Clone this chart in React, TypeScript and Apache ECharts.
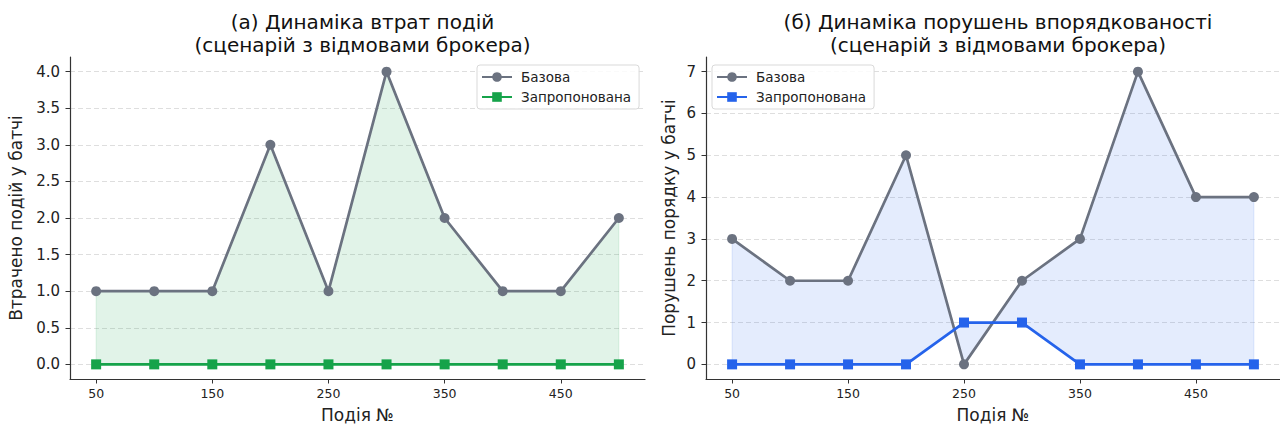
import React, { useEffect, useRef } from "react";
import * as echarts from "echarts";

const EVENTS = [50, 100, 150, 200, 250, 300, 350, 400, 450, 500];
const LOSS_BASE = [1, 1, 1, 3, 1, 4, 2, 1, 1, 2];
const LOSS_PROP = [0, 0, 0, 0, 0, 0, 0, 0, 0, 0];
const ORDER_BASE = [3, 2, 2, 5, 0, 2, 3, 7, 4, 4];
const ORDER_PROP = [0, 0, 0, 0, 1, 1, 0, 0, 0, 0];
const X_TICKS = [50, 150, 250, 350, 450];
const LOSS_TICKS = [0, 0.5, 1, 1.5, 2, 2.5, 3, 3.5, 4];
const ORDER_TICKS = [0, 1, 2, 3, 4, 5, 6, 7];

const TITLE_A = "(а) Динаміка втрат подій\n(сценарій з відмовами брокера)";
const TITLE_B = "(б) Динаміка порушень впорядкованості\n(сценарій з відмовами брокера)";
const NAME_BASE = "Базова";
const NAME_PROP = "Запропонована";

const FONT = "DejaVu Sans";
const GRAY = "#6b7280";
const GREEN = "#16a34a";
const BLUE = "#2563eb";

function fillSeries(idx: number, base: number[], prop: number[], fill: string, stroke: string) {
  return {
    type: "custom",
    xAxisIndex: idx,
    yAxisIndex: idx,
    silent: true,
    z: 1,
    data: EVENTS.map((x, i) => [x, base[i], prop[i]]),
    renderItem: (params: any, api: any) => {
      if (params.dataIndex !== 0) return null;
      const top = EVENTS.map((x, i) => api.coord([x, base[i]]));
      const bot = EVENTS.map((x, i) => api.coord([x, prop[i]])).reverse();
      return {
        type: "polygon",
        shape: { points: top.concat(bot) },
        style: { fill, stroke, lineWidth: 1 },
      };
    },
  };
}

function gridLineSeries(idx: number, ticks: number[]) {
  return {
    type: "line",
    xAxisIndex: idx,
    yAxisIndex: idx,
    data: [],
    silent: true,
    z: 0,
    markLine: {
      silent: true,
      z: 0,
      symbol: ["none", "none"],
      label: { show: false },
      lineStyle: { type: [5, 3], color: "#d6d6d6", width: 0.8 },
      data: ticks.map((t) => ({ yAxis: t })),
    },
  };
}

function lineSeries(idx: number, name: string, data: number[], color: string, symbol: string) {
  return {
    type: "line",
    name,
    xAxisIndex: idx,
    yAxisIndex: idx,
    data: EVENTS.map((x, i) => [x, data[i]]),
    symbol,
    symbolSize: 10,
    showSymbol: true,
    z: 3,
    lineStyle: { color, width: 2.7 },
    itemStyle: { color },
  };
}

function xAxis(idx: number) {
  return {
    type: "value",
    gridIndex: idx,
    min: 27.5,
    max: 522.5,
    name: "Подія №",
    nameLocation: "middle",
    nameGap: 27,
    nameTextStyle: { fontSize: 17, color: "#222", fontFamily: FONT },
    axisLine: { show: true, onZero: false, lineStyle: { color: "#333", width: 1.2 } },
    axisTick: { show: true, length: 4.5, customValues: X_TICKS, lineStyle: { color: "#333", width: 1 } },
    axisLabel: { customValues: X_TICKS, margin: 8, fontSize: 12.5, color: "#222", fontFamily: FONT },
    splitLine: { show: false },
  };
}

function yAxis(idx: number, min: number, max: number, ticks: number[], name: string, gap: number, fmt: (v: number) => string) {
  return {
    type: "value",
    gridIndex: idx,
    min,
    max,
    name,
    nameLocation: "middle",
    nameGap: gap,
    nameTextStyle: { fontSize: 17, color: "#222", fontFamily: FONT },
    axisLine: { show: true, onZero: false, lineStyle: { color: "#333", width: 1.2 } },
    axisTick: { show: true, length: 4.5, customValues: ticks, lineStyle: { color: "#333", width: 1 } },
    axisLabel: { customValues: ticks, margin: 10, fontSize: 15, color: "#222", fontFamily: FONT, formatter: fmt },
    splitLine: { show: false },
  };
}

function legend(left: number, names: string[]) {
  return {
    data: names,
    left,
    top: 65,
    orient: "vertical",
    z: 10,
    itemWidth: 30,
    itemHeight: 12,
    itemGap: 6,
    padding: [5, 8, 5, 4],
    backgroundColor: "rgba(255,255,255,0.85)",
    borderColor: "#d9d9d9",
    borderWidth: 1,
    borderRadius: 3,
    formatter: (n: string) => n.replace("_b", ""),
    textStyle: { fontSize: 13.5, color: "#222", fontFamily: FONT, padding: [0, 0, 0, 4] },
  };
}

export default function App() {
  const ref = useRef<HTMLDivElement>(null);
  useEffect(() => {
    if (!ref.current) return;
    const chart = echarts.init(ref.current, null, { renderer: "svg" });
    chart.setOption({
      animation: false,
      backgroundColor: "#ffffff",
      textStyle: { fontFamily: FONT },
      title: [
        {
          text: TITLE_A,
          left: 357.5,
          top: 5,
          textAlign: "center",
          textStyle: { fontSize: 20, fontWeight: "normal", lineHeight: 23, color: "#111", fontFamily: FONT },
        },
        {
          text: TITLE_B,
          left: 993,
          top: 5,
          textAlign: "center",
          textStyle: { fontSize: 20, fontWeight: "normal", lineHeight: 23, color: "#111", fontFamily: FONT },
        },
      ],
      legend: [legend(477, [NAME_BASE, NAME_PROP]), legend(712, [NAME_BASE + "_b", NAME_PROP + "_b"])],
      grid: [
        { left: 70, top: 57, width: 575, height: 322 },
        { left: 706, top: 57, width: 574, height: 322 },
      ],
      xAxis: [xAxis(0), xAxis(1)],
      yAxis: [
        yAxis(0, -0.2, 4.2, LOSS_TICKS, "Втрачено подій у батчі", 46, (v: number) => v.toFixed(1)),
        yAxis(1, -0.35, 7.35, ORDER_TICKS, "Порушень порядку у батчі", 29, (v: number) => String(v)),
      ],
      series: [
        gridLineSeries(0, LOSS_TICKS),
        gridLineSeries(1, ORDER_TICKS),
        fillSeries(0, LOSS_BASE, LOSS_PROP, "rgba(22,163,74,0.13)", "rgba(22,163,74,0.13)"),
        fillSeries(1, ORDER_BASE, ORDER_PROP, "rgba(37,99,235,0.12)", "rgba(37,99,235,0.12)"),
        lineSeries(0, NAME_BASE, LOSS_BASE, GRAY, "circle"),
        lineSeries(0, NAME_PROP, LOSS_PROP, GREEN, "rect"),
        lineSeries(1, NAME_BASE + "_b", ORDER_BASE, GRAY, "circle"),
        lineSeries(1, NAME_PROP + "_b", ORDER_PROP, BLUE, "rect"),
      ],
    });
    return () => chart.dispose();
  }, []);
  return <div ref={ref} style={{ position: "fixed", left: 0, top: 0, width: 1280, height: 428 }} />;
}
